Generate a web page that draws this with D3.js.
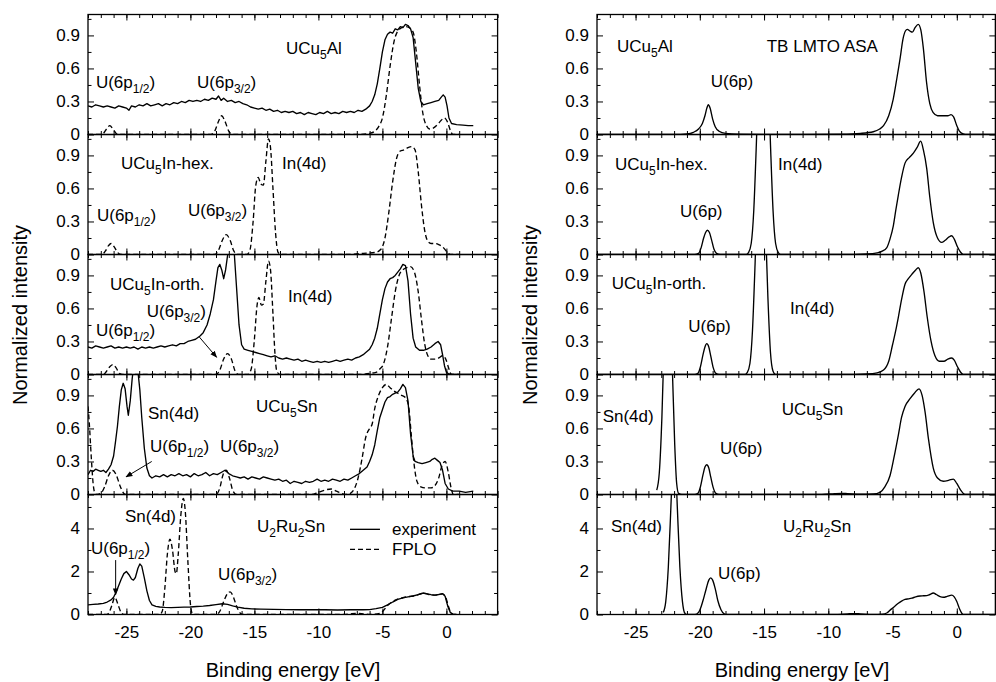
<!DOCTYPE html>
<html><head><meta charset="utf-8">
<script src="https://cdn.jsdelivr.net/npm/d3@7"></script>
<style>
body{margin:0;background:#fff}
svg text{font-family:"Liberation Sans",Arial,Helvetica,sans-serif;fill:#000}
</style>
</head><body>
<svg id="c" width="996" height="682"></svg>
<script>
// ---------------- tick values ----------------
const energyTicks = [-25, -20, -15, -10, -5, 0];
const intensityTicks = [0, 0.3, 0.6, 0.9];
const intensityMinor = [0.15, 0.45, 0.75, 1.05];
const ru2Ticks = [0, 2, 4];
const ru2Minor = [1, 3, 5];

// ---------------- left: experiment and FPLO ----------------
const expUCu5Al = [[-28.0,0.26],[-27.7,0.25],[-27.4,0.27],[-27.1,0.26],[-26.8,0.25],[-26.5,0.26],[-26.2,0.25],[-25.9,0.24],[-25.6,0.26],[-25.3,0.25],[-25.0,0.24],[-24.8,0.22],[-24.6,0.26],[-24.3,0.25],[-24.0,0.27],[-23.7,0.26],[-23.4,0.28],[-23.1,0.26],[-22.8,0.27],[-22.5,0.28],[-22.2,0.26],[-21.9,0.28],[-21.6,0.27],[-21.3,0.29],[-21.0,0.28],[-20.7,0.30],[-20.4,0.29],[-20.1,0.31],[-19.8,0.30],[-19.5,0.31],[-19.2,0.30],[-18.9,0.32],[-18.6,0.31],[-18.3,0.33],[-18.0,0.32],[-17.8,0.35],[-17.6,0.31],[-17.4,0.33],[-17.1,0.30],[-16.8,0.31],[-16.5,0.29],[-16.2,0.30],[-15.9,0.28],[-15.6,0.27],[-15.3,0.25],[-15.0,0.24],[-14.7,0.23],[-14.4,0.24],[-14.1,0.22],[-13.8,0.23],[-13.5,0.21],[-13.2,0.22],[-12.9,0.20],[-12.6,0.21],[-12.3,0.20],[-12.0,0.21],[-11.7,0.19],[-11.4,0.20],[-11.1,0.18],[-10.8,0.20],[-10.5,0.19],[-10.2,0.18],[-9.9,0.20],[-9.6,0.19],[-9.3,0.21],[-9.0,0.19],[-8.7,0.20],[-8.4,0.19],[-8.1,0.21],[-7.8,0.20],[-7.5,0.21],[-7.2,0.20],[-6.9,0.22],[-6.6,0.21],[-6.3,0.23],[-6.0,0.26],[-5.8,0.30],[-5.6,0.36],[-5.4,0.46],[-5.2,0.60],[-5.0,0.75],[-4.8,0.86],[-4.6,0.91],[-4.4,0.93],[-4.2,0.92],[-4.0,0.96],[-3.8,0.95],[-3.6,0.98],[-3.4,0.97],[-3.2,1.0],[-3.0,0.99],[-2.8,0.96],[-2.6,0.88],[-2.4,0.65],[-2.2,0.42],[-2.0,0.30],[-1.8,0.27],[-1.5,0.28],[-1.2,0.29],[-0.9,0.30],[-0.6,0.31],[-0.4,0.34],[-0.25,0.36],[-0.1,0.34],[0.05,0.26],[0.2,0.15],[0.4,0.10],[0.8,0.09],[1.3,0.085],[1.7,0.08],[2.1,0.08]];
const fploUCu5Al = [[-28,0],[-27.0,0],[-26.8,0.01],[-26.55,0.05],[-26.3,0.08],[-26.05,0.05],[-25.8,0.01],[-25.6,0],[-18.4,0],[-18.1,0.03],[-17.8,0.12],[-17.55,0.17],[-17.3,0.12],[-17.0,0.03],[-16.7,0],[-7.0,0],[-6.0,0.01],[-5.6,0.03],[-5.3,0.07],[-5.0,0.15],[-4.7,0.35],[-4.4,0.62],[-4.1,0.84],[-3.8,0.94],[-3.5,0.97],[-3.2,0.98],[-2.9,0.97],[-2.6,0.93],[-2.35,0.75],[-2.1,0.45],[-1.85,0.2],[-1.6,0.09],[-1.3,0.05],[-1.0,0.06],[-0.7,0.09],[-0.4,0.13],[-0.15,0.15],[0.1,0.11],[0.3,0.04],[0.5,0],[1.0,0]];
const fploUCu5InHex = [[-28,0],[-26.9,0],[-26.65,0.03],[-26.4,0.08],[-26.2,0.1],[-25.95,0.07],[-25.7,0.02],[-25.4,0],[-18.1,0],[-17.8,0.04],[-17.5,0.13],[-17.2,0.18],[-16.9,0.13],[-16.6,0.03],[-16.3,0],[-15.6,0],[-15.35,0.04],[-15.1,0.3],[-14.9,0.62],[-14.7,0.7],[-14.5,0.64],[-14.3,0.63],[-14.1,0.85],[-13.9,1.05],[-13.75,0.98],[-13.55,0.6],[-13.35,0.2],[-13.15,0.02],[-12.9,0],[-8,0],[-6.5,0.01],[-5.5,0.02],[-5.1,0.05],[-4.8,0.15],[-4.5,0.38],[-4.2,0.66],[-3.9,0.87],[-3.6,0.94],[-3.3,0.95],[-3.0,0.97],[-2.7,0.98],[-2.45,0.95],[-2.2,0.75],[-1.95,0.45],[-1.7,0.22],[-1.45,0.12],[-1.2,0.1],[-0.9,0.1],[-0.6,0.09],[-0.3,0.07],[0,0.03],[0.3,0],[1,0]];
const expUCu5InOrth = [[-28.0,0.25],[-27.7,0.24],[-27.4,0.26],[-27.1,0.25],[-26.8,0.24],[-26.5,0.25],[-26.2,0.26],[-25.9,0.24],[-25.6,0.25],[-25.3,0.24],[-25.0,0.25],[-24.7,0.24],[-24.4,0.25],[-24.1,0.23],[-23.8,0.25],[-23.5,0.24],[-23.2,0.25],[-22.9,0.24],[-22.6,0.25],[-22.3,0.26],[-22.0,0.25],[-21.7,0.26],[-21.4,0.27],[-21.1,0.26],[-20.8,0.28],[-20.5,0.28],[-20.2,0.30],[-19.9,0.31],[-19.6,0.32],[-19.25,0.35],[-19.0,0.38],[-18.7,0.45],[-18.45,0.55],[-18.2,0.68],[-18.0,0.85],[-17.85,0.97],[-17.7,1.0],[-17.55,0.95],[-17.4,0.87],[-17.25,0.95],[-17.05,1.12],[-16.8,1.2],[-16.6,1.15],[-16.4,0.8],[-16.2,0.45],[-16.0,0.27],[-15.8,0.23],[-15.5,0.22],[-15.2,0.21],[-14.9,0.20],[-14.6,0.19],[-14.3,0.18],[-14.0,0.17],[-13.7,0.16],[-13.4,0.17],[-13.1,0.15],[-12.8,0.14],[-12.5,0.15],[-12.2,0.14],[-11.9,0.13],[-11.6,0.14],[-11.3,0.12],[-11.0,0.13],[-10.7,0.12],[-10.4,0.11],[-10.1,0.12],[-9.8,0.11],[-9.5,0.12],[-9.2,0.11],[-8.9,0.12],[-8.6,0.13],[-8.3,0.12],[-8.0,0.13],[-7.7,0.14],[-7.4,0.13],[-7.1,0.15],[-6.8,0.16],[-6.5,0.18],[-6.3,0.20],[-6.0,0.23],[-5.8,0.27],[-5.6,0.33],[-5.4,0.42],[-5.2,0.55],[-5.0,0.68],[-4.8,0.78],[-4.6,0.84],[-4.4,0.87],[-4.2,0.88],[-4.0,0.9],[-3.8,0.93],[-3.6,0.96],[-3.4,1.0],[-3.2,0.99],[-3.0,0.85],[-2.8,0.55],[-2.6,0.33],[-2.4,0.25],[-2.1,0.22],[-1.8,0.22],[-1.5,0.23],[-1.2,0.25],[-0.9,0.28],[-0.65,0.3],[-0.45,0.27],[-0.3,0.18],[-0.15,0.08],[0.0,0.02],[0.2,0.005],[0.5,0],[2.0,0]];
const fploUCu5InOrth = [[-28,0],[-26.8,0],[-26.55,0.03],[-26.3,0.07],[-26.05,0.09],[-25.8,0.06],[-25.55,0.01],[-25.3,0],[-18.0,0],[-17.7,0.04],[-17.4,0.14],[-17.1,0.19],[-16.8,0.14],[-16.5,0.03],[-16.2,0],[-15.5,0],[-15.25,0.05],[-15.0,0.32],[-14.8,0.62],[-14.65,0.7],[-14.45,0.63],[-14.3,0.64],[-14.1,0.85],[-13.9,1.03],[-13.75,0.96],[-13.55,0.55],[-13.4,0.2],[-13.25,0.03],[-13.0,0],[-7,0],[-5.5,0.02],[-5.2,0.05],[-4.9,0.1],[-4.6,0.25],[-4.3,0.5],[-4.0,0.75],[-3.7,0.9],[-3.4,0.95],[-3.1,0.97],[-2.8,0.98],[-2.5,0.93],[-2.2,0.75],[-1.95,0.5],[-1.7,0.28],[-1.45,0.17],[-1.2,0.14],[-0.9,0.14],[-0.6,0.15],[-0.3,0.17],[-0.05,0.14],[0.2,0.05],[0.4,0],[1,0]];
const expUCu5Sn = [[-28.0,0.18],[-27.8,0.22],[-27.6,0.21],[-27.4,0.23],[-27.2,0.22],[-27.0,0.21],[-26.8,0.22],[-26.6,0.20],[-26.4,0.23],[-26.2,0.27],[-26.0,0.35],[-25.85,0.48],[-25.7,0.62],[-25.55,0.8],[-25.4,0.95],[-25.25,1.01],[-25.1,0.96],[-24.95,0.8],[-24.85,0.72],[-24.7,0.85],[-24.55,1.05],[-24.4,1.2],[-24.25,1.22],[-24.1,1.12],[-23.95,0.95],[-23.8,0.7],[-23.6,0.42],[-23.4,0.24],[-23.2,0.17],[-23.0,0.15],[-22.7,0.17],[-22.4,0.16],[-22.1,0.18],[-21.8,0.16],[-21.5,0.18],[-21.2,0.17],[-20.9,0.19],[-20.6,0.17],[-20.3,0.18],[-20.0,0.16],[-19.7,0.19],[-19.4,0.17],[-19.1,0.18],[-18.8,0.20],[-18.5,0.17],[-18.2,0.19],[-17.9,0.18],[-17.6,0.20],[-17.3,0.22],[-17.0,0.19],[-16.7,0.17],[-16.4,0.16],[-16.1,0.15],[-15.8,0.16],[-15.5,0.14],[-15.2,0.16],[-14.9,0.15],[-14.6,0.14],[-14.3,0.16],[-14.0,0.15],[-13.7,0.14],[-13.4,0.13],[-13.1,0.14],[-12.8,0.12],[-12.5,0.13],[-12.2,0.10],[-11.9,0.12],[-11.6,0.11],[-11.3,0.10],[-11.0,0.12],[-10.7,0.11],[-10.4,0.12],[-10.1,0.14],[-9.8,0.12],[-9.5,0.13],[-9.2,0.12],[-8.9,0.14],[-8.6,0.13],[-8.3,0.12],[-8.0,0.14],[-7.7,0.13],[-7.4,0.15],[-7.1,0.17],[-6.8,0.19],[-6.5,0.22],[-6.2,0.25],[-6.0,0.3],[-5.8,0.36],[-5.6,0.45],[-5.4,0.58],[-5.2,0.7],[-5.0,0.77],[-4.8,0.84],[-4.6,0.88],[-4.4,0.89],[-4.2,0.91],[-4.0,0.92],[-3.8,0.93],[-3.6,0.96],[-3.4,1.0],[-3.2,0.97],[-3.0,0.85],[-2.8,0.55],[-2.6,0.35],[-2.45,0.3],[-2.2,0.29],[-1.9,0.28],[-1.6,0.29],[-1.3,0.30],[-1.1,0.32],[-0.9,0.33],[-0.7,0.31],[-0.5,0.29],[-0.3,0.22],[-0.1,0.1],[0.15,0.05],[0.5,0.03],[1.0,0.03],[1.5,0.02],[2.1,0.03]];
const fploUCu5Sn = [[-28.0,0.8],[-27.9,0.65],[-27.75,0.35],[-27.6,0.1],[-27.45,0.01],[-27.3,0],[-27.0,0.01],[-26.7,0.07],[-26.4,0.17],[-26.1,0.22],[-25.8,0.18],[-25.5,0.08],[-25.2,0.01],[-25.0,0],[-18.0,0],[-17.7,0.06],[-17.45,0.18],[-17.2,0.22],[-16.95,0.15],[-16.7,0.04],[-16.4,0],[-10.5,0],[-10.0,0.02],[-9.5,0.04],[-9.0,0.05],[-8.6,0.03],[-8.2,0.01],[-7.8,0],[-7.5,0.01],[-7.2,0.05],[-6.9,0.15],[-6.6,0.32],[-6.3,0.52],[-6.0,0.6],[-5.8,0.64],[-5.6,0.78],[-5.3,0.9],[-5.0,0.97],[-4.7,1.0],[-4.4,0.97],[-4.1,0.94],[-3.8,0.92],[-3.5,0.9],[-3.2,0.88],[-2.95,0.8],[-2.75,0.55],[-2.55,0.3],[-2.3,0.12],[-2.0,0.07],[-1.6,0.06],[-1.2,0.06],[-0.9,0.08],[-0.6,0.15],[-0.35,0.26],[-0.1,0.3],[0.15,0.2],[0.35,0.07],[0.55,0],[1,0]];
const expU2Ru2Sn = [[-28.0,0.45],[-27.6,0.47],[-27.2,0.49],[-26.8,0.52],[-26.5,0.58],[-26.2,0.68],[-26.0,0.8],[-25.8,1.05],[-25.6,1.35],[-25.4,1.65],[-25.2,1.9],[-25.0,2.0],[-24.8,1.85],[-24.6,1.65],[-24.45,1.6],[-24.3,1.72],[-24.1,2.15],[-23.95,2.35],[-23.8,2.25],[-23.6,1.7],[-23.4,1.1],[-23.2,0.65],[-23.0,0.45],[-22.7,0.38],[-22.4,0.35],[-22.0,0.33],[-21.5,0.32],[-21.0,0.33],[-20.5,0.34],[-20.0,0.35],[-19.5,0.37],[-19.0,0.39],[-18.5,0.42],[-18.0,0.46],[-17.5,0.5],[-17.1,0.47],[-16.7,0.4],[-16.3,0.34],[-15.8,0.29],[-15.2,0.26],[-14.5,0.25],[-13.5,0.24],[-12.5,0.23],[-11.5,0.22],[-10.5,0.22],[-9.5,0.22],[-8.5,0.21],[-7.5,0.22],[-6.5,0.22],[-6.0,0.23],[-5.5,0.27],[-5.0,0.33],[-4.6,0.45],[-4.2,0.58],[-3.8,0.7],[-3.4,0.77],[-3.0,0.82],[-2.6,0.86],[-2.2,0.92],[-1.8,1.0],[-1.5,0.96],[-1.2,0.92],[-0.9,0.9],[-0.6,0.93],[-0.3,0.97],[-0.1,0.85],[0.1,0.4],[0.3,0.1],[0.5,0.02],[0.8,0]];
const fploU2Ru2Sn = [[-28,0],[-26.6,0],[-26.4,0.05],[-26.15,0.4],[-25.9,0.8],[-25.65,0.45],[-25.4,0.08],[-25.2,0],[-22.4,0],[-22.2,0.15],[-22.0,1.2],[-21.8,2.8],[-21.6,3.5],[-21.4,3.0],[-21.2,2.0],[-21.1,1.9],[-20.95,2.8],[-20.75,4.6],[-20.55,5.4],[-20.4,4.8],[-20.2,2.5],[-20.0,0.5],[-19.85,0.05],[-19.7,0],[-18.0,0],[-17.7,0.15],[-17.4,0.6],[-17.1,0.98],[-16.9,1.05],[-16.7,0.9],[-16.4,0.4],[-16.1,0.06],[-15.9,0],[-8,0],[-7.5,0.03],[-7.0,0.05],[-6.5,0.03],[-6,0],[-5.2,0.05],[-4.9,0.2],[-4.6,0.42],[-4.2,0.6],[-3.8,0.72],[-3.4,0.78],[-3.0,0.83],[-2.6,0.86],[-2.2,0.92],[-1.9,0.98],[-1.6,0.97],[-1.2,0.9],[-0.9,0.9],[-0.6,0.92],[-0.3,0.96],[-0.05,0.8],[0.15,0.4],[0.35,0.08],[0.55,0],[1,0]];

// ---------------- right: TB LMTO ASA ----------------
const lmtoUCu5Al = [[-28,0],[-22,0],[-21,0.005],[-20.5,0.02],[-20.1,0.05],[-19.8,0.1],[-19.6,0.17],[-19.45,0.24],[-19.34,0.27],[-19.2,0.24],[-19.0,0.14],[-18.8,0.07],[-18.5,0.03],[-18.0,0.01],[-17.0,0.003],[-12,0],[-9,0.003],[-7.5,0.01],[-6.5,0.025],[-6.0,0.05],[-5.7,0.08],[-5.3,0.17],[-4.95,0.32],[-4.65,0.52],[-4.4,0.7],[-4.2,0.86],[-4.0,0.94],[-3.85,0.955],[-3.65,0.94],[-3.46,0.93],[-3.25,0.97],[-3.0,1.0],[-2.8,0.95],[-2.6,0.78],[-2.35,0.47],[-2.1,0.28],[-1.85,0.2],[-1.5,0.17],[-1.1,0.17],[-0.7,0.17],[-0.45,0.18],[-0.25,0.16],[0.0,0.08],[0.2,0.03],[0.5,0.005],[0.8,0],[3,0]];
const lmtoUCu5InHex = [[-28,0],[-20.4,0],[-20.1,0.01],[-19.9,0.06],[-19.7,0.15],[-19.55,0.2],[-19.41,0.22],[-19.25,0.2],[-19.1,0.14],[-18.9,0.05],[-18.7,0.01],[-18.4,0],[-16.4,0],[-16.2,0.02],[-16.0,0.1],[-15.8,0.4],[-15.6,1.0],[-15.4,1.7],[-15.2,2.2],[-15.06,2.3],[-14.9,2.2],[-14.7,1.7],[-14.5,1.0],[-14.3,0.4],[-14.1,0.1],[-13.9,0.02],[-13.7,0],[-9,0],[-7,0.005],[-6.2,0.015],[-5.8,0.03],[-5.46,0.06],[-5.2,0.14],[-4.94,0.26],[-4.75,0.4],[-4.55,0.54],[-4.3,0.7],[-4.03,0.83],[-3.7,0.88],[-3.38,0.92],[-3.1,0.97],[-2.81,1.03],[-2.6,0.95],[-2.34,0.78],[-2.1,0.52],[-1.83,0.29],[-1.5,0.15],[-1.18,0.11],[-0.9,0.13],[-0.6,0.16],[-0.4,0.17],[-0.2,0.14],[0.05,0.07],[0.3,0.02],[0.5,0],[3,0]];
const lmtoUCu5InOrth = [[-28,0],[-20.4,0],[-20.15,0.01],[-19.95,0.07],[-19.75,0.18],[-19.6,0.25],[-19.46,0.28],[-19.3,0.25],[-19.15,0.17],[-18.95,0.06],[-18.75,0.01],[-18.5,0],[-16.5,0],[-16.3,0.02],[-16.1,0.1],[-15.9,0.4],[-15.7,1.0],[-15.5,1.7],[-15.35,2.1],[-15.25,2.2],[-15.1,2.0],[-14.9,1.4],[-14.7,0.7],[-14.5,0.2],[-14.3,0.03],[-14.1,0],[-9,0],[-7,0.005],[-6.2,0.015],[-5.7,0.04],[-5.3,0.12],[-5.0,0.27],[-4.75,0.4],[-4.55,0.52],[-4.3,0.68],[-4.03,0.82],[-3.77,0.87],[-3.5,0.91],[-3.2,0.95],[-3.0,0.97],[-2.8,0.92],[-2.55,0.75],[-2.3,0.52],[-2.0,0.3],[-1.7,0.17],[-1.35,0.12],[-1.0,0.12],[-0.7,0.14],[-0.4,0.15],[-0.2,0.13],[0.05,0.07],[0.3,0.02],[0.5,0],[3,0]];
const lmtoUCu5Sn = [[-23.35,0.04],[-23.15,0.2],[-22.95,0.7],[-22.75,1.5],[-22.6,2.1],[-22.5,2.3],[-22.35,2.0],[-22.15,1.2],[-21.95,0.45],[-21.8,0.1],[-21.65,0.01],[-21.4,0],[-20.4,0],[-20.15,0.01],[-19.95,0.07],[-19.75,0.18],[-19.6,0.25],[-19.46,0.27],[-19.3,0.24],[-19.15,0.16],[-18.95,0.06],[-18.75,0.01],[-18.5,0],[-10.5,0],[-9.5,0.008],[-9,0.01],[-8.5,0.008],[-7.5,0.003],[-6.5,0.005],[-5.98,0.02],[-5.6,0.07],[-5.2,0.17],[-4.9,0.33],[-4.55,0.54],[-4.3,0.7],[-4.03,0.8],[-3.64,0.87],[-3.3,0.92],[-2.94,0.96],[-2.7,0.9],[-2.47,0.75],[-2.2,0.5],[-1.83,0.24],[-1.5,0.15],[-1.05,0.12],[-0.6,0.13],[-0.27,0.14],[0.0,0.1],[0.3,0.04],[0.64,0],[3,0]];
const lmtoU2Ru2Sn = [[-22.84,0.1],[-22.65,0.6],[-22.45,2.2],[-22.25,5.0],[-22.1,7.2],[-22.0,8.0],[-21.9,7.2],[-21.75,5.0],[-21.55,2.2],[-21.35,0.6],[-21.2,0.1],[-21.05,0],[-20.5,0],[-20.25,0.02],[-20.0,0.2],[-19.75,0.65],[-19.5,1.2],[-19.3,1.6],[-19.15,1.7],[-19.0,1.6],[-18.8,1.2],[-18.6,0.65],[-18.35,0.22],[-18.1,0.03],[-17.9,0],[-9.5,0],[-8.5,0.03],[-8.0,0.04],[-7.5,0.03],[-6.5,0.005],[-5.8,0.02],[-5.45,0.07],[-5.1,0.25],[-4.8,0.4],[-4.55,0.52],[-4.3,0.62],[-4.03,0.7],[-3.75,0.73],[-3.5,0.76],[-3.2,0.82],[-2.86,0.86],[-2.6,0.87],[-2.34,0.88],[-2.1,0.93],[-1.83,1.0],[-1.6,0.93],[-1.3,0.83],[-1.05,0.8],[-0.75,0.84],[-0.4,0.9],[-0.2,0.82],[0.0,0.6],[0.2,0.28],[0.4,0.05],[0.55,0],[3,0]];

// ---------------- panel definitions ----------------
const small = {ymax:1.09, ticks:intensityTicks, minor:intensityMinor};
const big = {ymax:5.58, ticks:ru2Ticks, minor:ru2Minor};

const leftPanels = [
  {...small, curves:[{d:expUCu5Al,raw:true},{d:fploUCu5Al,dash:true}],
   labels:[[-27.38,0.42,"U(6p_{1/2})"],[-19.48,0.42,"U(6p_{3/2})"],[-12.53,0.73,"UCu_{5}Al"]]},
  {...small, curves:[{d:fploUCu5InHex,dash:true}],
   labels:[[-25.42,0.78,"UCu_{5}In-hex."],[-12.84,0.78,"In(4d)"],[-27.3,0.30,"U(6p_{1/2})"],[-20.19,0.35,"U(6p_{3/2})"]]},
  {...small, curves:[{d:expUCu5InOrth,raw:true},{d:fploUCu5InOrth,dash:true}],
   labels:[[-26.28,0.77,"UCu_{5}In-orth."],[-23.41,0.52,"U(6p_{3/2})"],[-12.38,0.66,"In(4d)"],[-27.38,0.35,"U(6p_{1/2})"]],
   arrows:[[[-19.3,0.34],[-17.95,0.156]]]},
  {...small, curves:[{d:expUCu5Sn,raw:true},{d:fploUCu5Sn,dash:true}],
   labels:[[-23.31,0.686,"Sn(4d)"],[-14.88,0.75,"UCu_{5}Sn"],[-23.16,0.386,"U(6p_{1/2})"],[-17.69,0.386,"U(6p_{3/2})"]],
   arrows:[[[-23.02,0.30],[-25.03,0.16]]]},
  {...big, curves:[{d:expU2Ru2Sn,raw:true},{d:fploU2Ru2Sn,dash:true}],
   labels:[[-25.11,4.30,"Sn(4d)"],[-14.8,3.83,"U_{2}Ru_{2}Sn"],[-27.77,2.81,"U(6p_{1/2})"],[-17.84,1.6,"U(6p_{3/2})"]],
   arrows:[[[-25.84,2.53],[-25.84,0.92]]],
   legend:{e0:-7.53,e1:-5.19,et:-4.25,rows:[{v:3.96,vt:3.69,t:"experiment"},{v:3.03,vt:2.76,t:"FPLO",dash:true}]}}
];
const rightPanels = [
  {...small, curves:[{d:lmtoUCu5Al}],
   labels:[[-26.44,0.75,"UCu_{5}Al"],[-14.79,0.75,"TB LMTO ASA"],[-19.15,0.43,"U(6p)"]]},
  {...small, curves:[{d:lmtoUCu5InHex}],
   labels:[[-26.6,0.77,"UCu_{5}In-hex."],[-13.91,0.77,"In(4d)"],[-21.54,0.34,"U(6p)"]]},
  {...small, curves:[{d:lmtoUCu5InOrth}],
   labels:[[-26.86,0.78,"UCu_{5}In-orth."],[-12.98,0.55,"In(4d)"],[-20.9,0.39,"U(6p)"]]},
  {...small, curves:[{d:lmtoUCu5Sn}],
   labels:[[-27.56,0.66,"Sn(4d)"],[-13.63,0.72,"UCu_{5}Sn"],[-18.43,0.37,"U(6p)"]]},
  {...big, curves:[{d:lmtoU2Ru2Sn}],
   labels:[[-26.91,3.83,"Sn(4d)"],[-13.53,3.83,"U_{2}Ru_{2}Sn"],[-18.58,1.65,"U(6p)"]]}
];

// ---------------- layout ----------------
const PANEL_TOP = 14.5, PANEL_H = 120;
const FONT = 17, SUB = 12;
const charts = [
  {x0:88, x1:497.6, dom:[-28,4], panels:leftPanels, xTitle:293, yTitle:27},
  {x0:597, x1:995.35, dom:[-28,3], panels:rightPanels, xTitle:802, yTitle:537}
];

const svg = d3.select("#c");
const defs = svg.append("defs");
defs.append("marker").attr("id","ah").attr("viewBox","0 0 10 10").attr("refX",9).attr("refY",5)
  .attr("markerWidth",7).attr("markerHeight",7).attr("orient","auto")
  .append("path").attr("d","M0,1L10,5L0,9Z").attr("fill","#000");

function rich(sel, str){
  const parts = str.split(/(_\{[^}]*\})/).filter(s=>s.length);
  let shifted = false;
  parts.forEach(s=>{
    if(s.startsWith("_{")){
      sel.append("tspan").attr("font-size",SUB).attr("dy",shifted?0:5).text(s.slice(2,-1));
      shifted = true;
    } else {
      const t = sel.append("tspan").text(s);
      if(shifted){ t.attr("dy",-5); shifted=false; }
    }
  });
}

function styleAxis(s){
  s.select(".domain").remove();
  s.selectAll(".tick line").attr("stroke","#000").attr("stroke-width",1);
  s.attr("font-size",FONT).attr("font-family","Liberation Sans, Arial, sans-serif");
  s.selectAll(".tick text").attr("fill","#000");
}

const fmtY = d => d===0 ? "0" : String(d);

charts.forEach((ch,ci)=>{
  const x = d3.scaleLinear().domain(ch.dom).range([ch.x0, ch.x1]);
  const minorX = d3.range(ch.dom[0], ch.dom[1]+0.001, 1);
  const n = ch.panels.length;
  ch.panels.forEach((p,i)=>{
    const top = PANEL_TOP + i*PANEL_H, bottom = top + PANEL_H;
    const y = d3.scaleLinear().domain([0,p.ymax]).range([bottom, top]);
    const g = svg.append("g");
    const cid = `clip${ci}_${i}`;
    defs.append("clipPath").attr("id",cid).append("rect")
      .attr("x",ch.x0).attr("y",top).attr("width",ch.x1-ch.x0).attr("height",PANEL_H);
    const cg = g.append("g").attr("clip-path",`url(#${cid})`);
    p.curves.forEach(c=>{
      const line = d3.line().x(d=>x(d[0])).y(d=>y(d[1]))
        .curve(c.raw ? d3.curveLinear : d3.curveMonotoneX);
      cg.append("path").datum(c.d).attr("d",line).attr("fill","none")
        .attr("stroke","#000").attr("stroke-width",1.35)
        .attr("stroke-linejoin","round")
        .attr("stroke-dasharray", c.dash ? "5,3" : null);
    });
    // axes (inward ticks on all four sides)
    const last = i === n-1;
    g.append("g").attr("transform",`translate(0,${bottom})`)
      .call(d3.axisBottom(x).tickValues(minorX).tickSize(-3.5).tickFormat(()=>"")).call(styleAxis);
    g.append("g").attr("transform",`translate(0,${bottom})`)
      .call(d3.axisBottom(x).tickValues(energyTicks).tickSize(-6).tickPadding(11.5)
        .tickFormat(last ? (d=>String(d)) : (()=>""))).call(styleAxis);
    g.append("g").attr("transform",`translate(0,${top})`)
      .call(d3.axisTop(x).tickValues(minorX).tickSize(-3.5).tickFormat(()=>"")).call(styleAxis);
    g.append("g").attr("transform",`translate(0,${top})`)
      .call(d3.axisTop(x).tickValues(energyTicks).tickSize(-6).tickFormat(()=>"")).call(styleAxis);
    g.append("g").attr("transform",`translate(${ch.x0},0)`)
      .call(d3.axisLeft(y).tickValues(p.ticks).tickSize(-6).tickPadding(8).tickFormat(fmtY)).call(styleAxis);
    g.append("g").attr("transform",`translate(${ch.x0},0)`)
      .call(d3.axisLeft(y).tickValues(p.minor).tickSize(-3.5).tickFormat(()=>"")).call(styleAxis);
    g.append("g").attr("transform",`translate(${ch.x1},0)`)
      .call(d3.axisRight(y).tickValues(p.ticks).tickSize(-6).tickFormat(()=>"")).call(styleAxis);
    g.append("g").attr("transform",`translate(${ch.x1},0)`)
      .call(d3.axisRight(y).tickValues(p.minor).tickSize(-3.5).tickFormat(()=>"")).call(styleAxis);
    g.append("rect").attr("x",ch.x0).attr("y",top).attr("width",ch.x1-ch.x0).attr("height",PANEL_H)
      .attr("fill","none").attr("stroke","#000").attr("stroke-width",1.3);
    // labels
    p.labels.forEach(([e,v,t])=>{
      const tx = g.append("text").attr("x",x(e)).attr("y",y(v)).attr("font-size",FONT);
      rich(tx,t);
    });
    (p.arrows||[]).forEach(([a,b])=>{
      g.append("line").attr("x1",x(a[0])).attr("y1",y(a[1])).attr("x2",x(b[0])).attr("y2",y(b[1]))
        .attr("stroke","#000").attr("stroke-width",1).attr("marker-end","url(#ah)");
    });
    if(p.legend){
      const L = p.legend;
      L.rows.forEach(r=>{
        g.append("line").attr("x1",x(L.e0)).attr("x2",x(L.e1)).attr("y1",y(r.v)).attr("y2",y(r.v))
          .attr("stroke","#000").attr("stroke-width",1.35).attr("stroke-dasharray",r.dash?"5,3":null);
        g.append("text").attr("x",x(L.et)).attr("y",y(r.vt)).attr("font-size",FONT).text(r.t);
      });
    }
  });
  // axis titles
  svg.append("text").attr("x",ch.xTitle).attr("y",677).attr("text-anchor","middle")
    .attr("font-size",20).text("Binding energy [eV]");
  svg.append("text").attr("transform",`translate(${ch.yTitle},315) rotate(-90)`)
    .attr("text-anchor","middle").attr("font-size",20).text("Normalized intensity");
});
</script>
</body></html>
